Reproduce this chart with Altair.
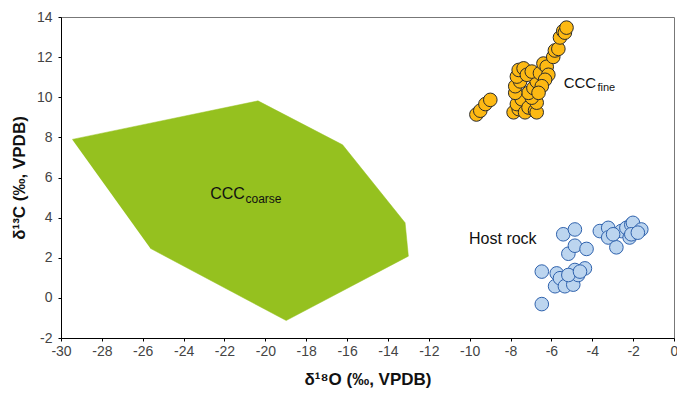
import altair as alt
import pandas as pd

# CCC coarse field (polygon vertices, in order)
poly_x = [-29.45, -20.36, -16.22, -13.16, -13.0, -18.98, -25.63]
poly_y = [7.9, 9.82, 7.63, 3.74, 2.08, -1.13, 2.47]

# CCC fine points
fine_x = [-9.67, -9.48, -9.23, -8.99, -7.85, -7.6, -7.69, -7.45, -7.29, -7.12,
          -6.8, -6.72, -6.72, -6.96, -7.12, -7.77, -7.77, -6.88, -6.72, -7.53,
          -7.69, -7.6, -7.36, -7.2, -6.96, -6.56, -6.39, -6.23, -6.15, -6.31,
          -6.47, -6.63, -5.91, -5.83, -5.66, -5.58, -5.42, -5.34, -5.26]
fine_y = [9.14, 9.33, 9.66, 9.87, 9.25, 9.41, 9.66, 9.9, 9.25, 9.49,
          9.33, 9.25, 9.73, 9.98, 10.22, 10.22, 10.55, 10.46, 10.79, 10.79,
          11.03, 11.36, 11.44, 11.12, 11.28, 11.2, 11.68, 11.52, 11.12, 10.87,
          10.55, 10.22, 12.01, 12.33, 12.41, 12.98, 13.3, 13.22, 13.47]

# Host rock points
host_x = [-6.47, -6.47, -5.74, -5.82, -5.58, -5.34, -4.93, -4.69, -4.85, -4.36,
          -5.17, -4.6, -5.17, -4.85, -4.28, -5.42, -4.85, -3.63, -3.22, -3.22,
          -2.82, -2.58, -2.33, -2.09, -2.01, -2.17, -2.09, -1.6, -1.77, -2.98]
host_y = [-0.31, 1.31, 1.22, 0.58, 0.98, 0.58, 0.66, 1.14, 1.39, 1.47,
          1.14, 1.31, 2.2, 2.6, 2.44, 3.17, 3.41, 3.33, 3.49, 3.01,
          2.52, 3.33, 3.49, 3.65, 3.74, 3.01, 3.17, 3.41, 3.25, 3.17]

# Annotations
lab_text = ["CCC", "coarse", "CCC", "fine", "Host rock"]
lab_x = [-22.7, -20.97, -5.4, -3.75, -10.03]
lab_y = [5.2, 4.95, 10.69, 10.45, 2.91]
lab_size = [16, 12, 15, 11, 16]

poly = pd.DataFrame({"x": poly_x, "y": poly_y, "i": range(len(poly_x))})
fine = pd.DataFrame({"x": fine_x, "y": fine_y})
host = pd.DataFrame({"x": host_x, "y": host_y})
labs = pd.DataFrame({"t": lab_text, "x": lab_x, "y": lab_y, "s": lab_size})

xs = alt.Scale(domain=[-30, 0], nice=False, zero=False)
ys = alt.Scale(domain=[-2, 14], nice=False, zero=False)

xax = alt.Axis(values=list(range(-30, 1)),
               labelExpr="datum.value % 2 == 0 ? '' + datum.value : ''",
               title="δ¹⁸O (‰, VPDB)", labelPadding=3, titlePadding=13)
yax = alt.Axis(values=list(range(-2, 15)),
               labelExpr="datum.value % 2 == 0 ? '' + datum.value : ''",
               title="δ¹³C (‰, VPDB)", labelPadding=6, titlePadding=8)

X = alt.X("x:Q", scale=xs, axis=xax)
Y = alt.Y("y:Q", scale=ys, axis=yax)

polygon = alt.Chart(poly).mark_line(fill="#95c11f", stroke="#95c11f",
                                    strokeWidth=0.5, fillOpacity=1).encode(
    x=X, y=Y, order=alt.Order("i:Q"))

fine_pts = alt.Chart(fine).mark_circle(size=185, fill="#fdb913", opacity=1,
                                       stroke="#2b2b2b", strokeWidth=1).encode(x="x:Q", y="y:Q")
host_pts = alt.Chart(host).mark_circle(size=185, fill="#bcd5ef", opacity=1,
                                       stroke="#2f62ad", strokeWidth=1).encode(x="x:Q", y="y:Q")

texts = alt.Chart(labs).mark_text(align="left", baseline="middle",
                                  font="Liberation Sans", color="#111").encode(
    x="x:Q", y="y:Q", text="t:N", size=alt.Size("s:Q", scale=None, legend=None))

chart = alt.layer(polygon, fine_pts, host_pts, texts).properties(
    width=613, height=321,
    autosize=alt.AutoSizeParams(type="none"),
    padding={"left": 53, "top": 9, "right": 3, "bottom": 52},
).configure_view(stroke="#777777", strokeWidth=1).configure_axis(
    grid=False, domainColor="black", tickColor="black", tickSize=3,
    labelColor="#444444", labelFont="Liberation Sans", labelFontSize=14,
    titleFont="Liberation Sans", titleFontSize=17, titleFontWeight="bold",
    titleColor="#111111", labelFlush=False, labelOverlap=False,
)

chart.save("out.html", embed_options={"renderer": "svg", "actions": False})
